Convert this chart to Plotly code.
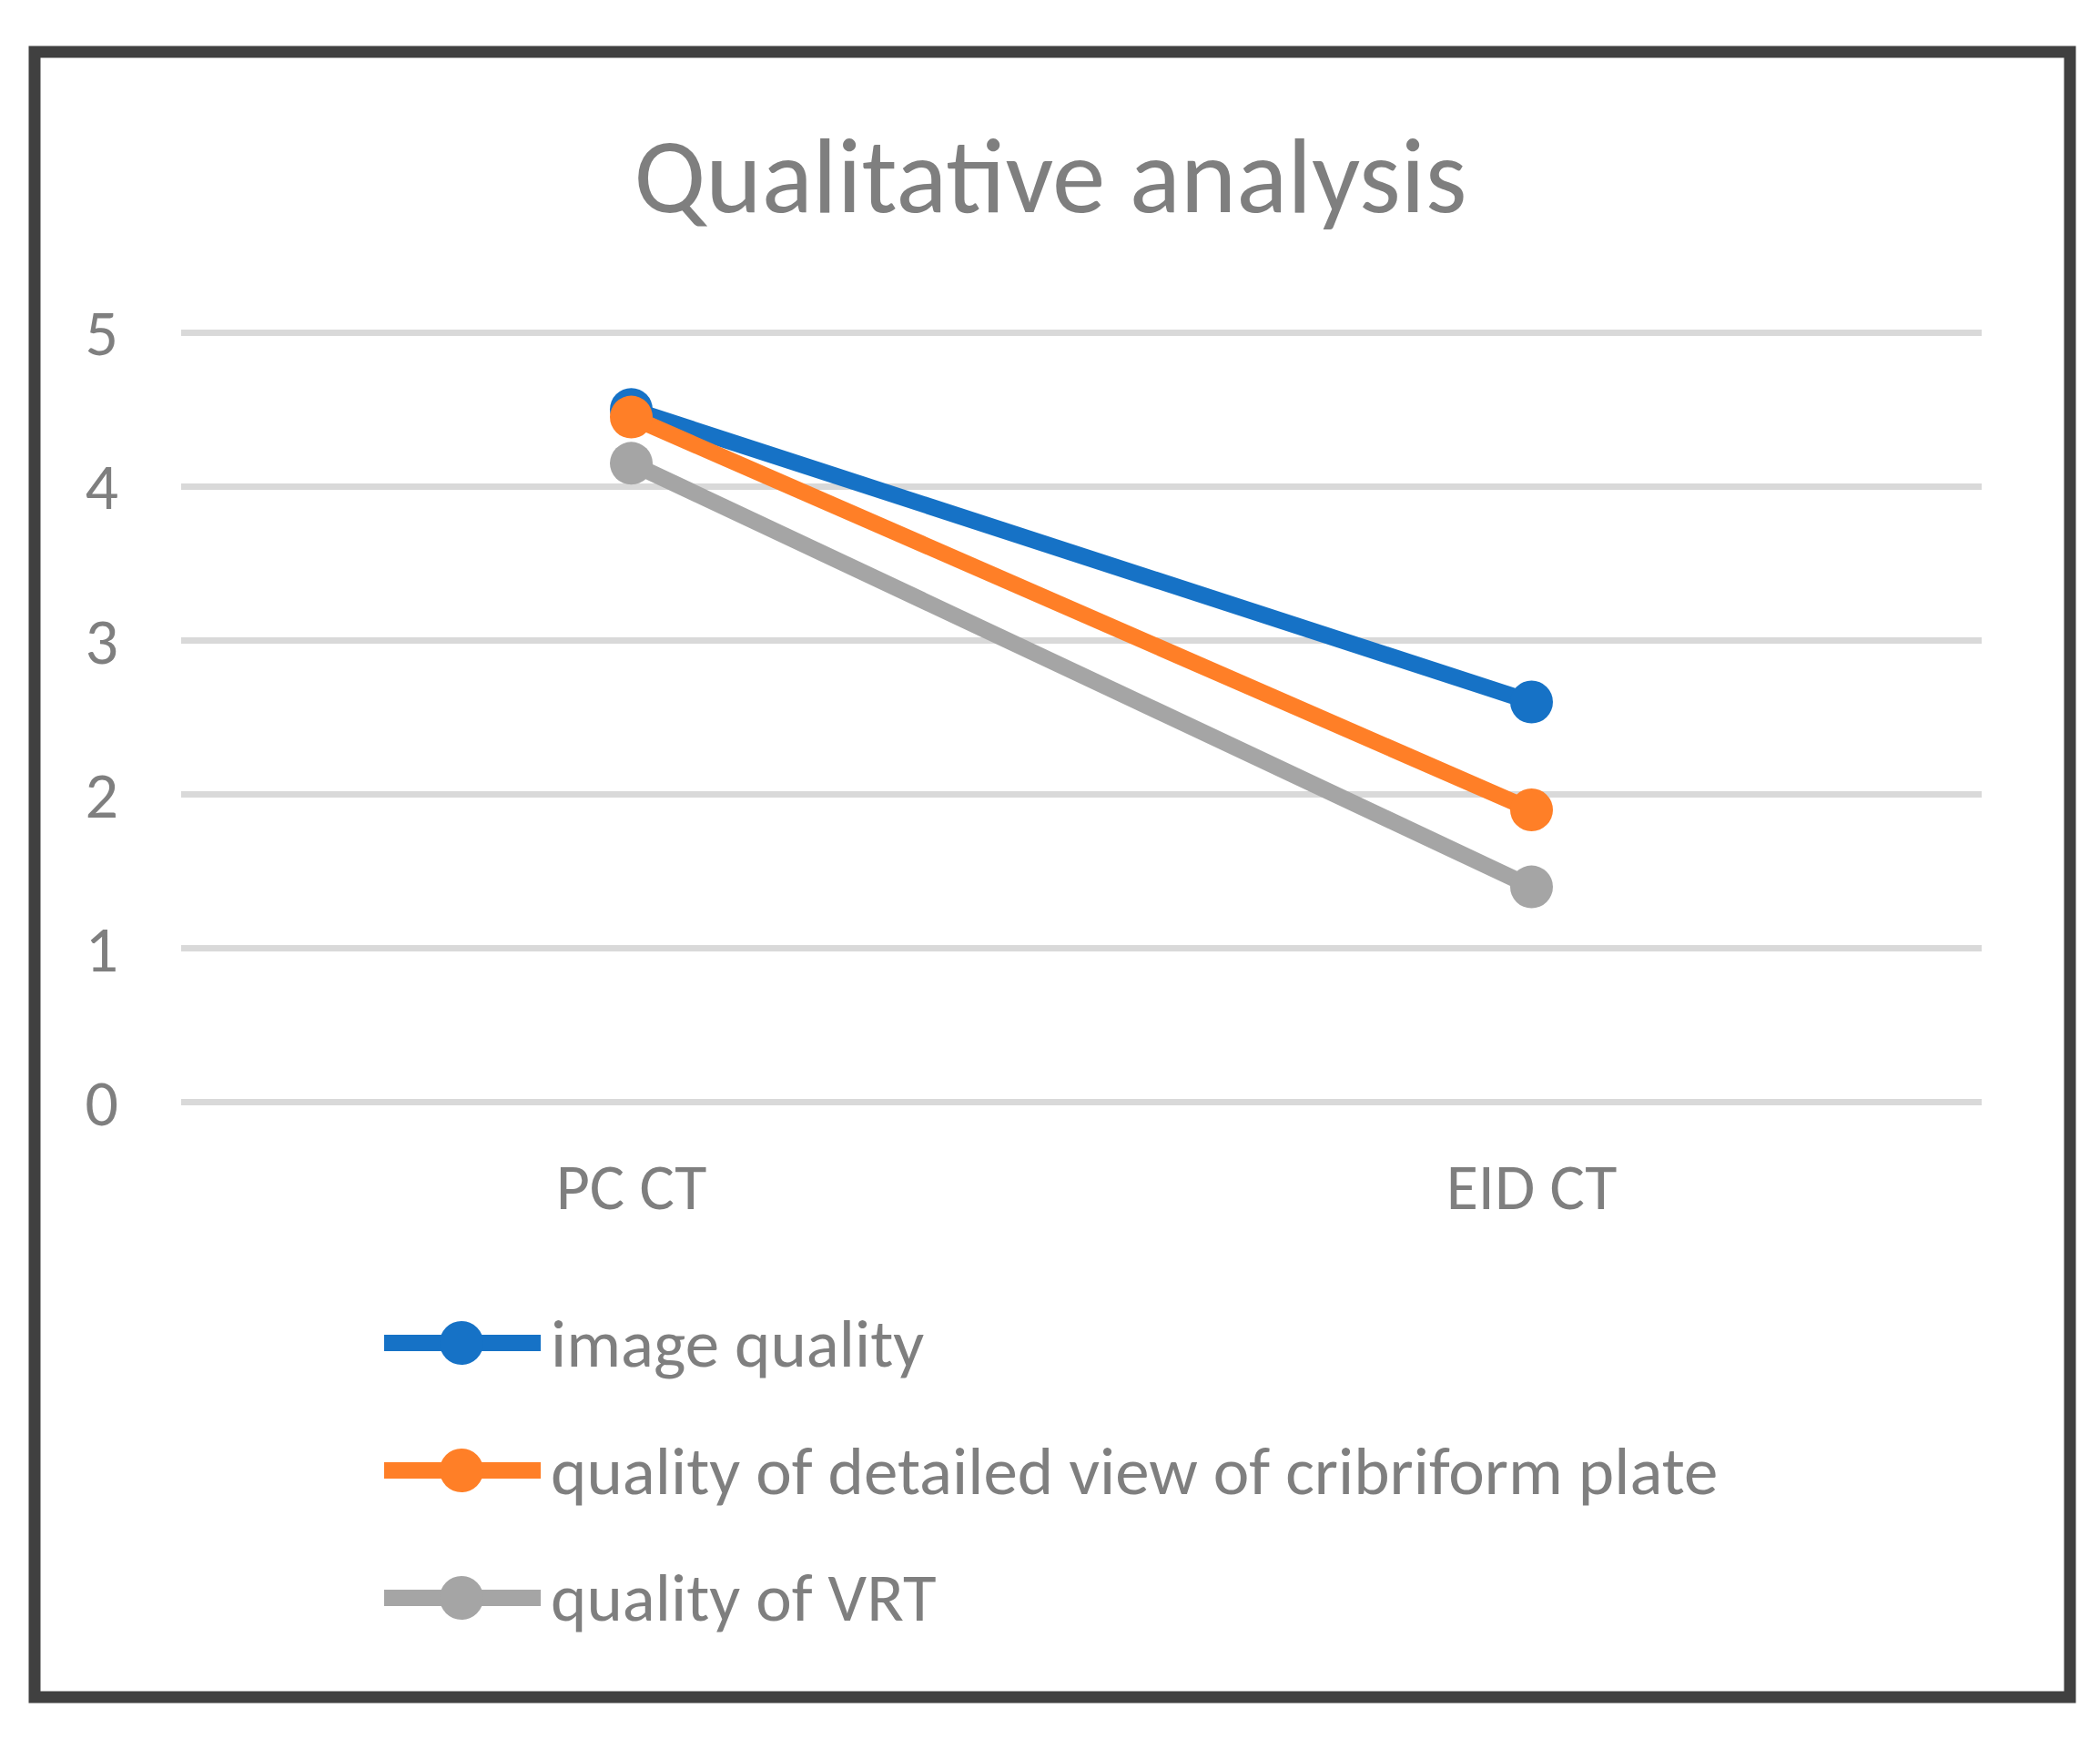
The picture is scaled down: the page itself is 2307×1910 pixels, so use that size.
import plotly.graph_objects as go

categories = ['PC CT', 'EID CT']
series_names = [
    'image quality',
    'quality of detailed view of cribriform plate',
    'quality of VRT',
]
image_quality = [4.5, 2.6]
cribriform_view = [4.45, 1.9]
vrt_quality = [4.15, 1.4]
series_values = [image_quality, cribriform_view, vrt_quality]
colors = ['#1672C6', '#FF7F27', '#A5A5A5']

W, H = 2307, 1910
OFF = 8  # page body margin in the browser
L, R, T, B = 199 - OFF, 130 + OFF, 360 - OFF, 694 + OFF
PW, PH = W - L - R, H - T - B


# positions below are measured on the reference picture (pixels)
def px_x(p):
    return (p - OFF - L) / PW


def px_y(p):
    return (H - B - (p - OFF)) / PH


font_family = 'Carlito, Lato, sans-serif'
text_color = '#7F7F7F'

fig = go.Figure()
for name, vals, col in zip(series_names, series_values, colors):
    fig.add_trace(go.Scatter(
        x=categories, y=vals, name=name, mode='lines+markers',
        line=dict(color=col, width=18),
        marker=dict(color=col, size=47),
        showlegend=False,
    ))

shapes = [
    # outer frame
    dict(type='rect', xref='paper', yref='paper',
         x0=px_x(38), x1=px_x(2274), y0=px_y(1864), y1=px_y(57),
         line=dict(color='#404040', width=13), layer='below'),
]
annotations = []
row_y = [1475, 1615, 1755]
for name, col, ry in zip(series_names, colors, row_y):
    yp = px_y(ry)
    shapes.append(dict(type='line', xref='paper', yref='paper',
                       x0=px_x(422), x1=px_x(594), y0=yp, y1=yp,
                       line=dict(color=col, width=18)))
    shapes.append(dict(type='circle', xref='paper', yref='paper',
                       xsizemode='pixel', ysizemode='pixel',
                       xanchor=px_x(507), yanchor=yp,
                       x0=-24, x1=24, y0=-24, y1=24,
                       fillcolor=col, line=dict(color=col, width=0)))
    annotations.append(dict(xref='paper', yref='paper', x=px_x(603), y=yp,
                            text=name, showarrow=False, xanchor='left',
                            yanchor='middle',
                            font=dict(family=font_family, size=75,
                                      color=text_color)))

fig.update_layout(
    width=W, height=H,
    margin=dict(l=L, r=R, t=T, b=B),
    paper_bgcolor='white', plot_bgcolor='white',
    title=dict(text='Qualitative analysis', x=(1154 - OFF) / W,
               xanchor='center', y=1 - (192 - OFF) / H, yanchor='middle',
               yref='container',
               font=dict(family=font_family, size=117, color=text_color)),
    showlegend=False,
    shapes=shapes,
    annotations=annotations,
)
fig.update_xaxes(
    type='category', range=[-0.5, 1.5], showgrid=False, zeroline=False,
    showline=False, ticks='', ticklabelstandoff=39,
    tickfont=dict(family=font_family, size=72, color=text_color),
)
fig.update_yaxes(
    range=[-0.03, 5.03], tickvals=[0, 1, 2, 3, 4, 5], showgrid=True,
    gridcolor='#D9D9D9', gridwidth=7,
    zeroline=False, showline=False, ticks='', ticklabelstandoff=68,
    tickfont=dict(family=font_family, size=72, color=text_color),
)

fig.write_html('out.html')
